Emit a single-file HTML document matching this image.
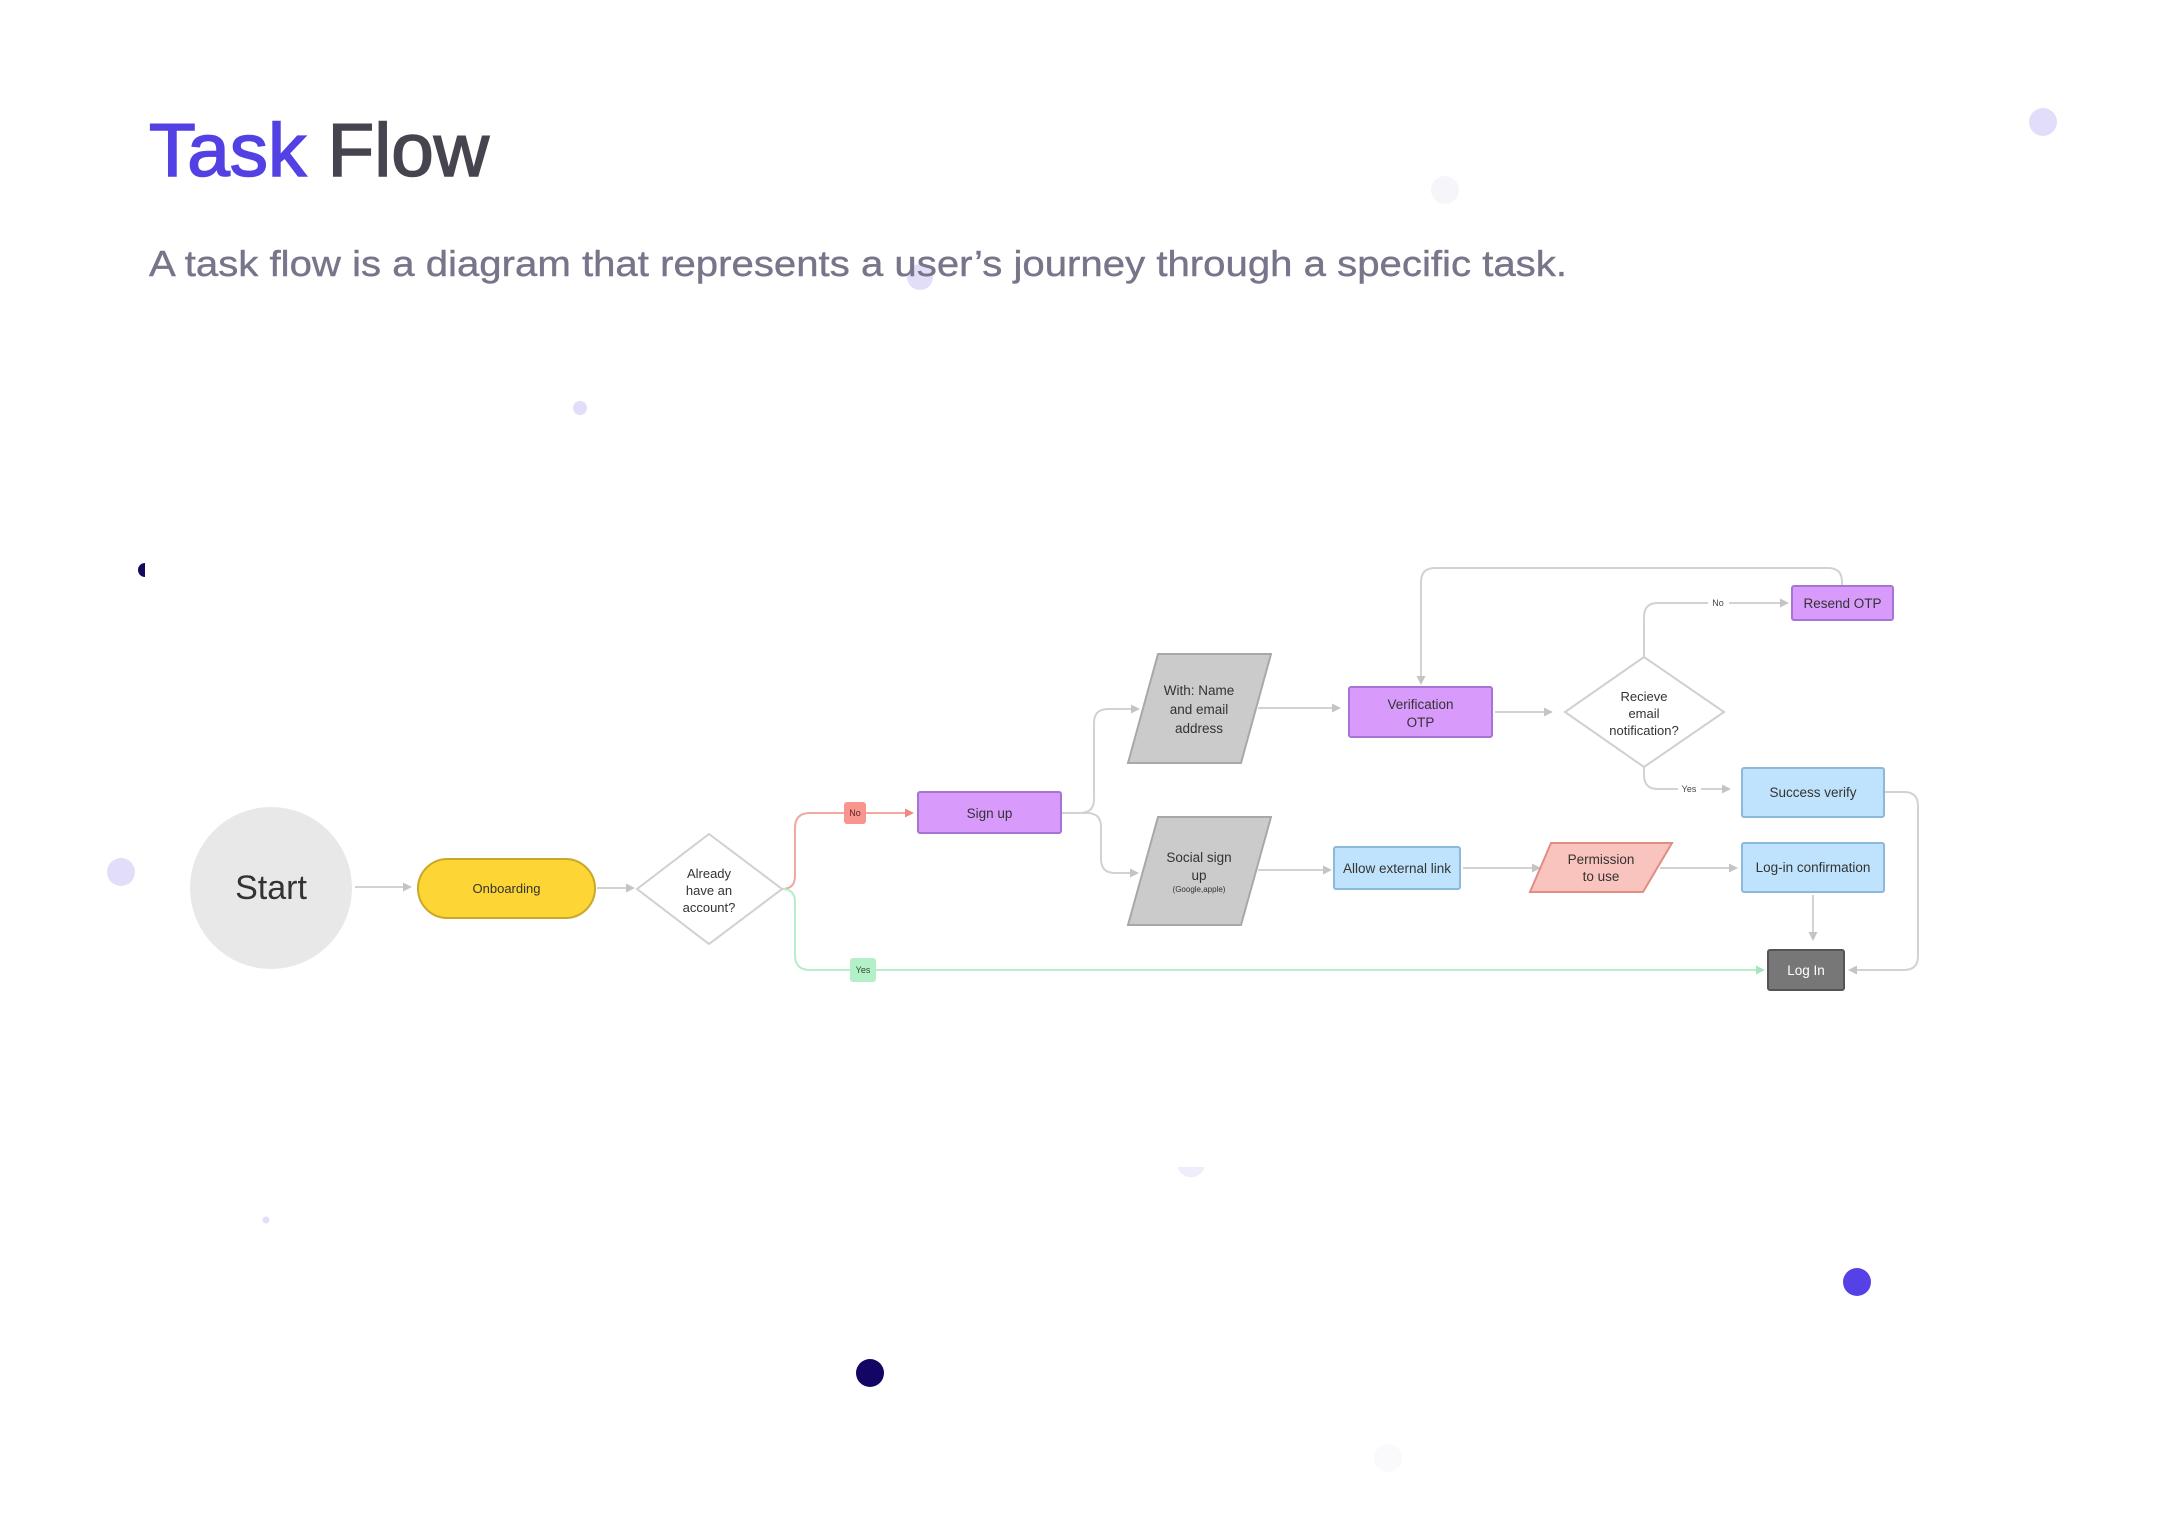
<!DOCTYPE html>
<html>
<head>
<meta charset="utf-8">
<style>
html,body{margin:0;padding:0;background:#fff;}
body{width:2161px;height:1537px;overflow:hidden;}
svg{display:block;}
text{font-family:"Liberation Sans",Arial,sans-serif;}
</style>
</head>
<body>
<svg width="2161" height="1537" viewBox="0 0 2161 1537" xmlns="http://www.w3.org/2000/svg">
<rect width="2161" height="1537" fill="#ffffff"/>

<!-- decorative dots -->
<circle cx="2043" cy="122" r="14" fill="#E2DEFA"/>
<circle cx="1445" cy="190" r="14" fill="#F6F5FA"/>
<circle cx="920" cy="277" r="13" fill="#E2DEFA"/>
<circle cx="580" cy="408" r="7" fill="#E2DEFA"/>
<path d="M145,563 A7,7 0 0 0 145,577 Z" fill="#130A5E"/>
<circle cx="121" cy="872" r="14" fill="#E2DEFA"/>
<path d="M1177.5,1167 L1204.5,1167 A14,14 0 0 1 1177.5,1167 Z" fill="#EFEDFB"/>
<circle cx="266" cy="1220" r="3.5" fill="#E2DEFA"/>
<circle cx="1857" cy="1282" r="14" fill="#5541E5"/>
<circle cx="870" cy="1373" r="14" fill="#130563"/>
<circle cx="1388" cy="1458" r="14" fill="#FAFAFD"/>

<!-- title -->
<text x="149" y="176" font-size="75" stroke-width="1.6" textLength="340" lengthAdjust="spacingAndGlyphs"><tspan fill="#5341E4" stroke="#5341E4">Task</tspan><tspan fill="#46444F" stroke="#46444F"> Flow</tspan></text>
<text x="149" y="276" font-size="36" fill="#77758A" stroke="#77758A" stroke-width="0.4" textLength="1418" lengthAdjust="spacingAndGlyphs">A task flow is a diagram that represents a user’s journey through a specific task.</text>

<!-- connectors (gray) -->
<g fill="none" stroke="#D2D2D2" stroke-width="2">
  <line x1="355" y1="887" x2="404" y2="887"/>
  <line x1="597" y1="888" x2="627" y2="888"/>
  <path d="M1061,813 L1080,813 Q1094,813 1094,799 L1094,723 Q1094,709 1108,709 L1132,709"/>
  <path d="M1061,813 L1087,813 Q1101,813 1101,827 L1101,859 Q1101,873 1115,873 L1131,873"/>
  <line x1="1258" y1="708" x2="1333" y2="708"/>
  <line x1="1258" y1="870" x2="1324" y2="870"/>
  <path d="M1842,586 L1842,582 Q1842,568 1828,568 L1435,568 Q1421,568 1421,582 L1421,677"/>
  <line x1="1495" y1="712" x2="1545" y2="712"/>
  <path d="M1644,657 L1644,617 Q1644,603 1658,603 L1708,603"/>
  <line x1="1729" y1="603" x2="1781" y2="603"/>
  <path d="M1644,767 L1644,775 Q1644,789 1658,789 L1678,789"/>
  <line x1="1701" y1="789" x2="1723" y2="789"/>
  <line x1="1463" y1="868" x2="1533" y2="868"/>
  <line x1="1660" y1="868" x2="1730" y2="868"/>
  <line x1="1813" y1="895" x2="1813" y2="933"/>
  <path d="M1884,792 L1904,792 Q1918,792 1918,806 L1918,956 Q1918,970 1904,970 L1856,970"/>
</g>
<g fill="#C4C4C4">
  <polygon points="403,882.5 412,887 403,891.5"/>
  <polygon points="626,883.5 635,888 626,892.5"/>
  <polygon points="1131,704.5 1140,709 1131,713.5"/>
  <polygon points="1130,868.5 1139,873 1130,877.5"/>
  <polygon points="1332,703.5 1341,708 1332,712.5"/>
  <polygon points="1323,865.5 1332,870 1323,874.5"/>
  <polygon points="1416.5,676 1421,685 1425.5,676"/>
  <polygon points="1544,707.5 1553,712 1544,716.5"/>
  <polygon points="1780,598.5 1789,603 1780,607.5"/>
  <polygon points="1722,784.5 1731,789 1722,793.5"/>
  <polygon points="1532,863.5 1541,868 1532,872.5"/>
  <polygon points="1729,863.5 1738,868 1729,872.5"/>
  <polygon points="1808.5,932 1813,941 1817.5,932"/>
  <polygon points="1857,965.5 1848,970 1857,974.5"/>
</g>

<!-- red No branch -->
<path d="M782,889 Q795,889 795,876 L795,828 Q795,813 810,813 L844,813" fill="none" stroke="#F2A89F" stroke-width="2"/>
<line x1="866" y1="813" x2="906" y2="813" stroke="#F2A89F" stroke-width="2"/>
<polygon points="905,808.5 914,813 905,817.5" fill="#EF8A80"/>
<rect x="844" y="802" width="22" height="22" rx="3" fill="#F8958C"/>
<text x="855" y="816" font-size="9" fill="#5A2525" text-anchor="middle">No</text>

<!-- green Yes branch -->
<path d="M782,889 Q795,889 795,902 L795,955 Q795,970 810,970 L850,970" fill="none" stroke="#B8EDCB" stroke-width="2"/>
<line x1="876" y1="970" x2="1757" y2="970" stroke="#B8EDCB" stroke-width="2"/>
<polygon points="1756,965.5 1765,970 1756,974.5" fill="#A6E6BD"/>
<rect x="850" y="958" width="26" height="24" rx="3" fill="#B3F0C8"/>
<text x="863" y="973" font-size="9" fill="#2E4A38" text-anchor="middle">Yes</text>

<!-- Start -->
<circle cx="271" cy="888" r="81" fill="#E8E8E8"/>
<text x="271" y="899" font-size="34" fill="#333333" text-anchor="middle">Start</text>

<!-- Onboarding -->
<rect x="418" y="859" width="177" height="59" rx="29.5" fill="#FDD534" stroke="#C9A82A" stroke-width="2"/>
<text x="506.5" y="893" font-size="13" fill="#333333" text-anchor="middle">Onboarding</text>

<!-- Diamond 1 -->
<polygon points="709,834 782,889 709,944 637,889" fill="#ffffff" stroke="#D0D0D0" stroke-width="2"/>
<g font-size="13" fill="#333333" text-anchor="middle">
  <text x="709" y="878">Already</text>
  <text x="709" y="895">have an</text>
  <text x="709" y="912">account?</text>
</g>

<!-- Sign up -->
<rect x="918" y="792" width="143" height="41" rx="2" fill="#D89BFB" stroke="#A774D6" stroke-width="2"/>
<text x="989.5" y="818" font-size="13.5" fill="#333333" text-anchor="middle">Sign up</text>

<!-- Parallelograms -->
<polygon points="1158,654 1271,654 1241,763 1128,763" fill="#CBCBCB" stroke="#A8A8A8" stroke-width="2"/>
<g font-size="13.5" fill="#333333" text-anchor="middle">
  <text x="1199" y="695">With: Name</text>
  <text x="1199" y="714">and email</text>
  <text x="1199" y="733">address</text>
</g>
<polygon points="1158,817 1271,817 1241,925 1128,925" fill="#CBCBCB" stroke="#A8A8A8" stroke-width="2"/>
<g fill="#333333" text-anchor="middle">
  <text x="1199" y="862" font-size="13.5">Social sign</text>
  <text x="1199" y="880" font-size="13.5">up</text>
  <text x="1199" y="892" font-size="8">(Google,apple)</text>
</g>

<!-- Verification OTP -->
<rect x="1349" y="687" width="143" height="50" rx="2" fill="#D89BFB" stroke="#A774D6" stroke-width="2"/>
<g font-size="13.5" fill="#333333" text-anchor="middle">
  <text x="1420.5" y="709">Verification</text>
  <text x="1420.5" y="727">OTP</text>
</g>

<!-- Diamond 2 -->
<polygon points="1644,657 1724,712 1644,767 1565,712" fill="#ffffff" stroke="#D0D0D0" stroke-width="2"/>
<g font-size="13" fill="#333333" text-anchor="middle">
  <text x="1644" y="701">Recieve</text>
  <text x="1644" y="718">email</text>
  <text x="1644" y="735">notification?</text>
</g>
<text x="1718" y="606" font-size="9" fill="#444444" text-anchor="middle">No</text>
<text x="1689" y="792" font-size="9" fill="#444444" text-anchor="middle">Yes</text>

<!-- Resend OTP -->
<rect x="1792" y="586" width="101" height="34" rx="2" fill="#D89BFB" stroke="#A774D6" stroke-width="2"/>
<text x="1842.5" y="608" font-size="13.5" fill="#333333" text-anchor="middle">Resend OTP</text>

<!-- Success verify -->
<rect x="1742" y="768" width="142" height="49" rx="2" fill="#BFE3FC" stroke="#8CB9DA" stroke-width="2"/>
<text x="1813" y="797" font-size="13.5" fill="#333333" text-anchor="middle">Success verify</text>

<!-- Allow external link -->
<rect x="1334" y="847" width="126" height="42" rx="2" fill="#BFE3FC" stroke="#8CB9DA" stroke-width="2"/>
<text x="1397" y="873" font-size="13.5" fill="#333333" text-anchor="middle">Allow external link</text>

<!-- Permission -->
<polygon points="1551,843 1672,843 1643,892 1530,892" fill="#FAC4BE" stroke="#E08D84" stroke-width="2"/>
<g font-size="13.5" fill="#333333" text-anchor="middle">
  <text x="1601" y="864">Permission</text>
  <text x="1601" y="881">to use</text>
</g>

<!-- Log-in confirmation -->
<rect x="1742" y="843" width="142" height="49" rx="2" fill="#BFE3FC" stroke="#8CB9DA" stroke-width="2"/>
<text x="1813" y="872" font-size="13.5" fill="#333333" text-anchor="middle">Log-in confirmation</text>

<!-- Log In -->
<rect x="1768" y="950" width="76" height="40" rx="2" fill="#777777" stroke="#555555" stroke-width="2"/>
<text x="1806" y="975" font-size="13.5" fill="#ffffff" text-anchor="middle">Log In</text>

</svg>
</body>
</html>
